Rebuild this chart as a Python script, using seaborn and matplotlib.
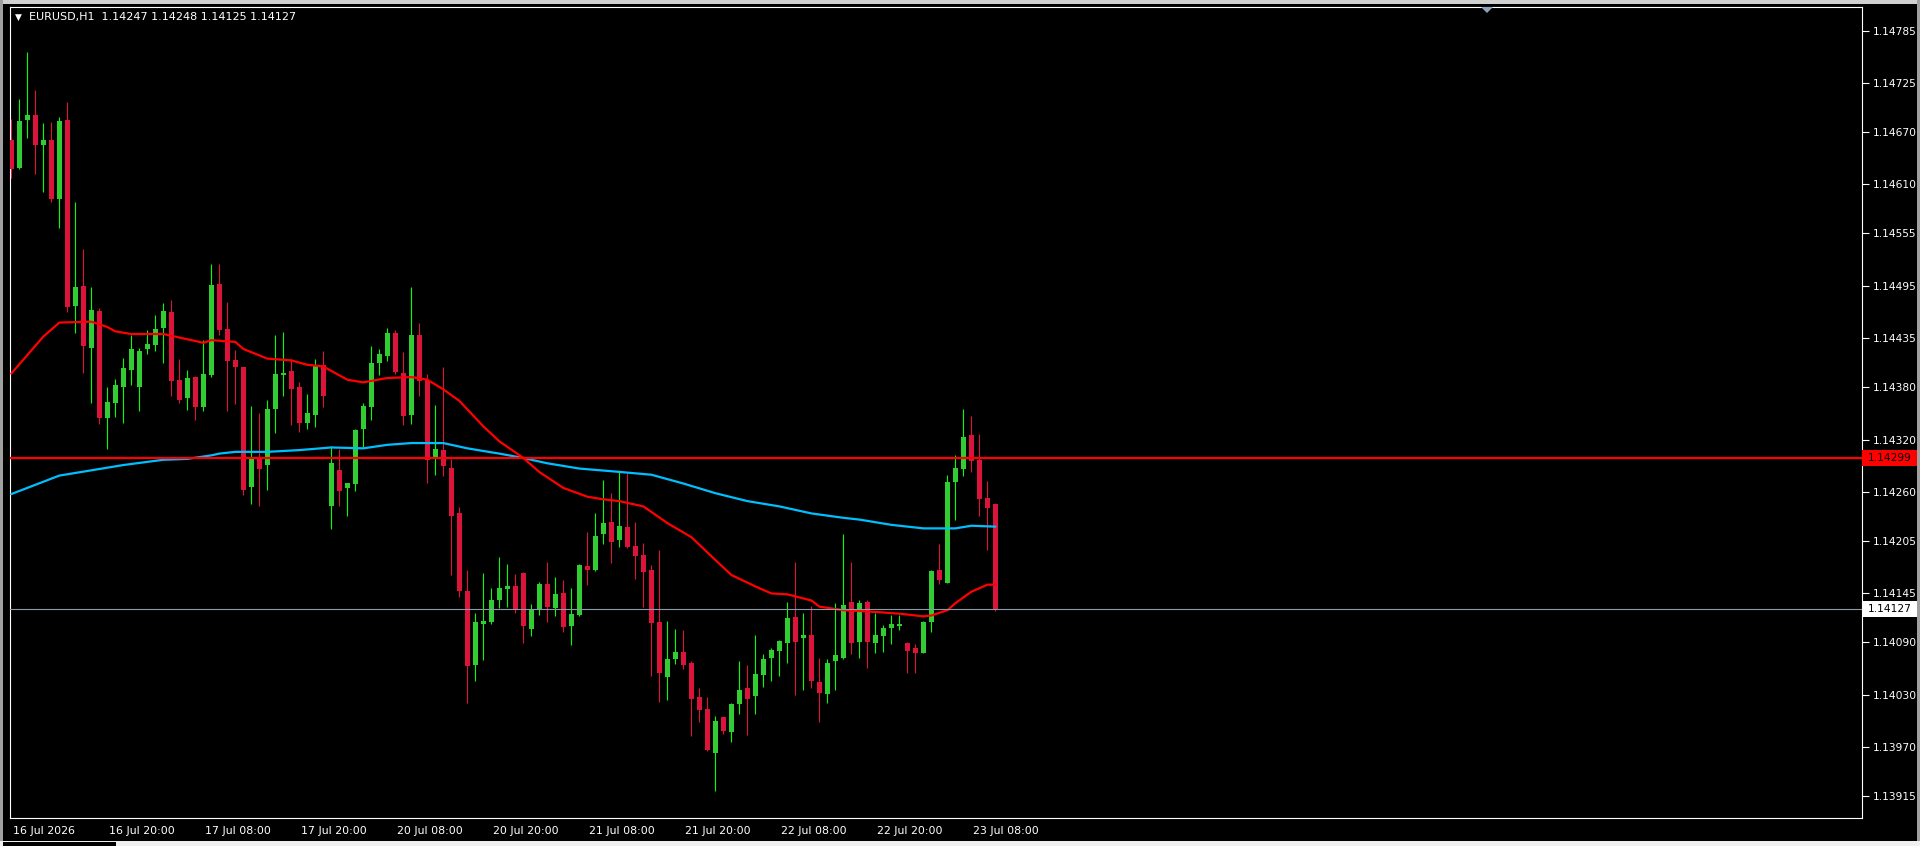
import matplotlib
matplotlib.use("Agg")
import pandas as pd
import seaborn as sns
import matplotlib.pyplot as plt
from matplotlib import font_manager
from matplotlib.patches import Rectangle, Polygon
from matplotlib.transforms import ScaledTranslation

# EURUSD H1 candles (bar 0 = 16 Jul 08:00)
opens = [1.14661, 1.14629, 1.14683, 1.14689, 1.14655, 1.14661, 1.14594, 1.14683, 1.14472, 1.14495,
         1.14424, 1.14466, 1.14344, 1.14362, 1.14380, 1.14399, 1.14380, 1.14423, 1.14428, 1.14447,
         1.14465, 1.14388, 1.14367, 1.14391, 1.14357, 1.14393, 1.14497, 1.14446, 1.14410, 1.14402,
         1.14266, 1.14298, 1.14291, 1.14355, 1.14393, 1.14398, 1.14380, 1.14339, 1.14348, 1.14405,
         1.14244, 1.14285, 1.14265, 1.14269, 1.14332, 1.14357, 1.14407, 1.14415, 1.14441, 1.14396,
         1.14348, 1.14439, 1.14388, 1.14300, 1.14308, 1.14288, 1.14236, 1.14148, 1.14064, 1.14110,
         1.14112, 1.14137, 1.14150, 1.14153, 1.14168, 1.14105, 1.14127, 1.14156, 1.14129, 1.14145,
         1.14108, 1.14121, 1.14176, 1.14172, 1.14213, 1.14226, 1.14206, 1.14221, 1.14199, 1.14189,
         1.14172, 1.14113, 1.14050, 1.14071, 1.14078, 1.14066, 1.14027, 1.14014, 1.13964, 1.14005,
         1.13988, 1.14019, 1.14037, 1.14028, 1.14052, 1.14072, 1.14080, 1.14089, 1.14118, 1.14094,
         1.14098, 1.14044, 1.14031, 1.14068, 1.14072, 1.14135, 1.14090, 1.14135, 1.14089, 1.14097,
         1.14106, 1.14108, 1.14089, 1.14083, 1.14077, 1.14112, 1.14172, 1.14157, 1.14272, 1.14287,
         1.14325, 1.14297, 1.14254, 1.14247]
highs = [1.14685, 1.14707, 1.14761, 1.14717, 1.14680, 1.14681, 1.14687, 1.14704, 1.14590, 1.14537,
         1.14494, 1.14469, 1.14380, 1.14389, 1.14413, 1.14439, 1.14424, 1.14445, 1.14462, 1.14475,
         1.14479, 1.14412, 1.14399, 1.14392, 1.14433, 1.14520, 1.14520, 1.14476, 1.14422, 1.14403,
         1.14358, 1.14350, 1.14365, 1.14439, 1.14442, 1.14412, 1.14385, 1.14372, 1.14412, 1.14421,
         1.14313, 1.14309, 1.14271, 1.14332, 1.14362, 1.14426, 1.14423, 1.14447, 1.14445, 1.14420,
         1.14494, 1.14453, 1.14395, 1.14359, 1.14402, 1.14298, 1.14243, 1.14172, 1.14123, 1.14168,
         1.14151, 1.14186, 1.14179, 1.14167, 1.14169, 1.14133, 1.14158, 1.14181, 1.14164, 1.14160,
         1.14151, 1.14178, 1.14215, 1.14236, 1.14274, 1.14259, 1.14283, 1.14282, 1.14226, 1.14202,
         1.14177, 1.14194, 1.14114, 1.14105, 1.14103, 1.14068, 1.14037, 1.14027, 1.14006, 1.14005,
         1.14021, 1.14068, 1.14064, 1.14098, 1.14076, 1.14083, 1.14092, 1.14135, 1.14181, 1.14123,
         1.14131, 1.14072, 1.14071, 1.14134, 1.14213, 1.14181, 1.14138, 1.14138, 1.14123, 1.14109,
         1.14120, 1.14120, 1.14090, 1.14088, 1.14114, 1.14172, 1.14201, 1.14280, 1.14302, 1.14355,
         1.14347, 1.14326, 1.14273, 1.14248]
lows = [1.14617, 1.14628, 1.14663, 1.14622, 1.14601, 1.14590, 1.14560, 1.14465, 1.14441, 1.14396,
        1.14362, 1.14338, 1.14309, 1.14346, 1.14339, 1.14382, 1.14353, 1.14417, 1.14421, 1.14407,
        1.14370, 1.14362, 1.14354, 1.14342, 1.14353, 1.14391, 1.14439, 1.14353, 1.14360, 1.14257,
        1.14247, 1.14244, 1.14263, 1.14328, 1.14369, 1.14336, 1.14329, 1.14332, 1.14334, 1.14357,
        1.14218, 1.14245, 1.14233, 1.14261, 1.14312, 1.14342, 1.14393, 1.14409, 1.14395, 1.14336,
        1.14338, 1.14370, 1.14271, 1.14280, 1.14278, 1.14166, 1.14141, 1.14021, 1.14045, 1.14069,
        1.14110, 1.14129, 1.14130, 1.14123, 1.14089, 1.14097, 1.14121, 1.14112, 1.14119, 1.14101,
        1.14086, 1.14119, 1.14155, 1.14170, 1.14201, 1.14180, 1.14198, 1.14197, 1.14162, 1.14130,
        1.14051, 1.14022, 1.14024, 1.14065, 1.14059, 1.13983, 1.13999, 1.13966, 1.13920, 1.13985,
        1.13976, 1.14008, 1.13984, 1.14008, 1.14039, 1.14045, 1.14051, 1.14066, 1.14030, 1.14035,
        1.14038, 1.13999, 1.14021, 1.14035, 1.14070, 1.14076, 1.14072, 1.14060, 1.14077, 1.14078,
        1.14088, 1.14103, 1.14055, 1.14054, 1.14077, 1.14101, 1.14156, 1.14157, 1.14228, 1.14278,
        1.14283, 1.14233, 1.14194, 1.14125]
closes = [1.14628, 1.14682, 1.14689, 1.14655, 1.14661, 1.14594, 1.14682, 1.14471, 1.14494, 1.14426,
          1.14467, 1.14345, 1.14363, 1.14382, 1.14401, 1.14423, 1.14421, 1.14429, 1.14446, 1.14466,
          1.14387, 1.14365, 1.14390, 1.14357, 1.14395, 1.14496, 1.14445, 1.14409, 1.14402, 1.14263,
          1.14298, 1.14286, 1.14355, 1.14395, 1.14396, 1.14377, 1.14339, 1.14350, 1.14405, 1.14370,
          1.14293, 1.14261, 1.14271, 1.14331, 1.14358, 1.14407, 1.14417, 1.14441, 1.14397, 1.14347,
          1.14439, 1.14387, 1.14297, 1.14309, 1.14290, 1.14233, 1.14148, 1.14063, 1.14112, 1.14114,
          1.14137, 1.14151, 1.14153, 1.14127, 1.14108, 1.14126, 1.14156, 1.14130, 1.14144, 1.14107,
          1.14122, 1.14177, 1.14172, 1.14210, 1.14225, 1.14204, 1.14222, 1.14198, 1.14188, 1.14169,
          1.14111, 1.14055, 1.14070, 1.14078, 1.14064, 1.14025, 1.14012, 1.13967, 1.14000, 1.13989,
          1.14019, 1.14035, 1.14025, 1.14053, 1.14070, 1.14081, 1.14091, 1.14117, 1.14090, 1.14098,
          1.14045, 1.14032, 1.14066, 1.14075, 1.14132, 1.14089, 1.14134, 1.14090, 1.14098, 1.14106,
          1.14110, 1.14110, 1.14080, 1.14077, 1.14112, 1.14170, 1.14160, 1.14272, 1.14288, 1.14323,
          1.14296, 1.14252, 1.14242, 1.14127]

# moving averages, sampled at bar positions
fast_ma_bar = [0, 2, 4, 6, 10, 12, 13, 15, 19, 21, 24, 25, 28, 29, 32, 35, 37, 39, 42, 44, 47,
               50, 52, 54, 56, 59, 61, 64, 66, 69, 72, 74, 76, 79, 82, 85, 88, 90, 93, 95, 97,
               100, 101, 104, 108, 111, 114, 115, 117, 118, 120, 122, 123]
fast_ma = [1.14395, 1.14416, 1.14437, 1.14453, 1.14454, 1.14448, 1.14443, 1.14440, 1.14440, 1.14436,
           1.14430, 1.14433, 1.14431, 1.14423, 1.14412, 1.14410, 1.14405, 1.14403, 1.14388, 1.14385,
           1.14390, 1.14391, 1.14388, 1.14377, 1.14364, 1.14335, 1.14318, 1.14299, 1.14283, 1.14265,
           1.14255, 1.14252, 1.14250, 1.14244, 1.14225, 1.14209, 1.14183, 1.14166, 1.14153, 1.14145,
           1.14144, 1.14137, 1.14130, 1.14126, 1.14124, 1.14122, 1.14119, 1.14120, 1.14126, 1.14134,
           1.14147, 1.14155, 1.14155]
slow_ma_bar = [0, 6, 10, 14, 19, 22, 25, 26, 28, 32, 36, 40, 44, 47, 50, 54, 57, 61, 64, 67, 71,
               75, 80, 84, 88, 92, 96, 100, 104, 106, 110, 114, 118, 120, 123]
slow_ma = [1.14258, 1.14279, 1.14285, 1.14291, 1.14297, 1.14298, 1.14302, 1.14304, 1.14306, 1.14306,
           1.14308, 1.14311, 1.14310, 1.14314, 1.14316, 1.14316, 1.14310, 1.14304, 1.14299, 1.14293,
           1.14287, 1.14284, 1.14280, 1.14270, 1.14259, 1.14250, 1.14244, 1.14236, 1.14231, 1.14229,
           1.14223, 1.14219, 1.14219, 1.14222, 1.14221]

level_price = 1.14299
bid_price = 1.14127

price_ticks = [1.14785, 1.14725, 1.14670, 1.14610, 1.14555, 1.14495, 1.14435, 1.14380,
               1.14320, 1.14260, 1.14205, 1.14145, 1.14090, 1.14030, 1.13970, 1.13915]
time_tick_bar = [0, 12, 24, 36, 48, 60, 72, 84, 96, 108, 120]
time_labels = ["16 Jul 2026", "16 Jul 20:00", "17 Jul 08:00", "17 Jul 20:00", "20 Jul 08:00",
               "20 Jul 20:00", "21 Jul 08:00", "21 Jul 20:00", "22 Jul 08:00", "22 Jul 20:00",
               "23 Jul 08:00"]
title = "EURUSD,H1  1.14247 1.14248 1.14125 1.14127"

sns.set_style("dark")
names = {f.name for f in font_manager.fontManager.ttflist}
narrow = "Liberation Sans Narrow" in names
ui_font = "Liberation Sans Narrow" if narrow else "DejaVu Sans"
k = 1.0 if narrow else 0.78
plt.rcParams["font.family"] = [ui_font, "DejaVu Sans"]

W, H = 1920, 846
fig = plt.figure(figsize=(W / 100, H / 100), dpi=100, facecolor="black")
ax = fig.add_axes([10 / W, 28 / H, 1852 / W, 811 / H])
ax.set_facecolor("black")

df = pd.DataFrame({"bar": range(len(opens)), "open": opens, "high": highs,
                   "low": lows, "close": closes})
df["up"] = df["close"] >= df["open"]
df["bottom"] = df[["open", "close"]].min(axis=1)
df["height"] = (df["close"] - df["open"]).abs().clip(lower=0.00002)

up = df[df["up"]]
dn = df[~df["up"]]
ax.vlines(up["bar"], up["low"], up["high"], color="#00ff00", lw=0.8, zorder=2)
ax.vlines(dn["bar"], dn["low"], dn["high"], color="#dc143c", lw=0.8, zorder=2)
ax.bar(up["bar"], up["height"], bottom=up["bottom"], width=0.62, color="#32cd32",
       linewidth=0, zorder=3)
ax.bar(dn["bar"], dn["height"], bottom=dn["bottom"], width=0.62, color="#dc143c",
       linewidth=0, zorder=3)

fast = pd.DataFrame({"bar": fast_ma_bar, "ma": fast_ma})
slow = pd.DataFrame({"bar": slow_ma_bar, "ma": slow_ma})
sns.lineplot(data=slow, x="bar", y="ma", color="#00bfff", lw=1.6, ax=ax, zorder=4)
sns.lineplot(data=fast, x="bar", y="ma", color="#ff0000", lw=1.6, ax=ax, zorder=4)

ax.axhline(level_price, color="#ff0000", lw=1.6, zorder=5)
ax.axhline(bid_price, color="#8a9aa8", lw=0.8, zorder=5)

ax.set_xlim(-0.16, 231.3)
ax.set_ylim(1.138897, 1.148118)
ax.set_xlabel("")
ax.set_ylabel("")
ax.grid(False)

for s in ax.spines.values():
    s.set_color("white")
    s.set_linewidth(0.8)

ax.yaxis.tick_right()
ax.set_yticks(price_ticks)
ax.set_yticklabels([f"{p:.5f}" for p in price_ticks])
ax.tick_params(axis="y", colors="white", direction="out", length=5, width=0.8,
               pad=3, labelsize=9.8 * k)
ax.set_xticks(time_tick_bar)
ax.set_xticklabels(time_labels)
ax.tick_params(axis="x", colors="white", direction="out", length=5, width=0.8,
               pad=1, labelsize=10.2 * k)
shift = ScaledTranslation(2 / 100, 0, fig.dpi_scale_trans)
for lab in ax.get_xticklabels():
    lab.set_horizontalalignment("left")
    lab.set_transform(lab.get_transform() + shift)

# price boxes on the axis
fig.canvas.draw()
for price, face in [(level_price, "#ff0000"), (bid_price, "#ffffff")]:
    y = ax.transData.transform((0, price))[1]
    fig.add_artist(Rectangle((1862 / W, (y - 8) / H), 55 / W, 16 / H,
                             transform=fig.transFigure, facecolor=face,
                             edgecolor="none", zorder=6))
    fig.text(1868 / W, y / H, f"{price:.5f}", color="black", fontsize=9.8 * k,
             va="center", ha="left", zorder=7)

# title line
fig.text(15 / W, 1 - 17 / H, "\u25bc", color="white", fontsize=6.5,
         family="DejaVu Sans", va="center", ha="left")
fig.text(29 / W, 1 - 17 / H, title, color="white", fontsize=10.3 * k,
         va="center", ha="left")

# chart shift marker
fig.add_artist(Polygon([(1481 / W, 1 - 7 / H), (1493 / W, 1 - 7 / H), (1487 / W, 1 - 13 / H)],
                       closed=True, transform=fig.transFigure, facecolor="#8da4bd",
                       edgecolor="none"))

# window frame
fig.add_artist(Rectangle((0, 1 - 4 / H), 1, 4 / H, transform=fig.transFigure,
                         facecolor="#d0d0d0", edgecolor="none"))
fig.add_artist(Rectangle((0, 0), 3 / W, 1, transform=fig.transFigure,
                         facecolor="#a0a0a0", edgecolor="none"))
fig.add_artist(Rectangle((1 - 3 / W, 0), 3 / W, 1, transform=fig.transFigure,
                         facecolor="#a0a0a0", edgecolor="none"))
fig.add_artist(Rectangle((0, 0), 1, 5 / H, transform=fig.transFigure,
                         facecolor="#f0f0f0", edgecolor="none"))
fig.add_artist(Rectangle((3 / W, 0), 113 / W, 4 / H, transform=fig.transFigure,
                         facecolor="black", edgecolor="none"))

fig.savefig("out.png", dpi=100, facecolor="black")
